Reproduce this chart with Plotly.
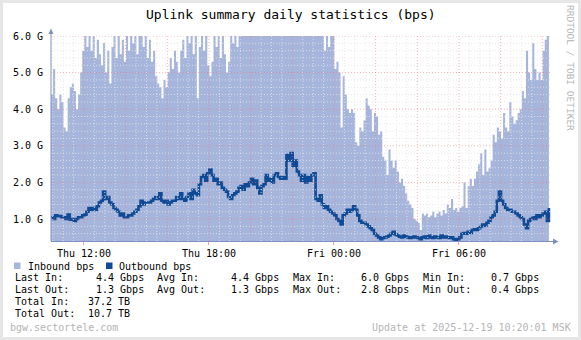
import pandas as pd
import plotly.graph_objects as go

# ---------------------------------------------------------------- data
TITLE = "Uplink summary daily statistics (bps)"
START = "2025-12-18 10:25"
END = "2025-12-19 10:25"
STEP = "6min"

# Inbound traffic, Gbps, one sample per 6 minutes
inbound_gbps = [
    4.4, 5.1, 4.3, 4.0, 4.4, 4.2, 3.5, 3.4, 4.3, 4.6,
    4.7, 4.5, 4.0, 4.4, 5.0, 5.6, 6.0, 5.7, 6.0, 5.6,
    6.0, 5.4, 5.9, 5.5, 5.2, 5.8, 5.0, 5.6, 4.7, 5.7,
    6.0, 5.4, 6.0, 5.5, 5.9, 5.3, 6.0, 5.6, 6.0, 5.8,
    6.0, 5.5, 6.0, 6.0, 5.7, 6.0, 5.4, 5.9, 5.3, 5.6,
    4.9, 4.7, 4.6, 4.3, 4.8, 4.6, 5.0, 5.4, 5.1, 5.6,
    5.3, 5.0, 5.6, 5.9, 5.4, 6.0, 5.8, 6.0, 5.5, 6.0,
    4.3, 5.7, 6.0, 5.6, 6.0, 5.2, 4.9, 5.3, 6.0, 5.7,
    6.0, 5.4, 6.0, 5.5, 5.0, 5.3, 6.0, 5.8, 6.0, 5.7,
    6.0, 6.0, 6.0, 6.0, 6.0, 6.0, 6.0, 6.0, 6.0, 6.0,
    6.0, 6.0, 6.0, 6.0, 6.0, 6.0, 6.0, 6.0, 6.0, 6.0,
    6.0, 6.0, 6.0, 6.0, 6.0, 6.0, 6.0, 6.0, 6.0, 6.0,
    6.0, 6.0, 6.0, 6.0, 6.0, 6.0, 6.0, 6.0, 6.0, 6.0,
    6.0, 5.6, 6.0, 5.7, 6.0, 6.0, 5.1, 5.3, 5.0, 3.5,
    4.9, 4.4, 4.0, 3.9, 4.0, 3.9, 3.1, 3.0, 3.5, 3.4,
    3.7, 4.3, 4.1, 4.0, 3.4, 3.9, 3.8, 3.3, 3.4, 2.7,
    2.6, 2.2, 2.9, 2.6, 2.4, 2.6, 2.3, 2.0, 2.1, 1.9,
    1.7, 1.5, 1.4, 1.3, 1.0, 0.95, 0.9, 0.7, 1.15, 1.1,
    1.15, 1.05, 1.1, 1.2, 1.05, 1.15, 1.2, 1.1, 1.25, 1.15,
    1.4, 1.3, 1.55, 1.25, 1.3, 1.2, 1.3, 1.35, 2.0, 1.3,
    1.9, 2.1, 1.9, 2.1, 2.3, 2.5, 2.8, 2.2, 2.9, 2.3,
    2.4, 2.6, 3.3, 3.1, 3.5, 3.4, 3.2, 3.9, 3.5, 3.4,
    4.2, 3.8, 3.6, 3.7, 3.9, 4.0, 4.5, 4.3, 5.6, 5.0,
    4.8, 5.8, 5.1, 4.8, 5.0, 4.8, 5.6, 5.9, 6.0, 4.4,
]

# Outbound traffic, Gbps, same sampling
outbound_gbps = [
    1.05, 1.0, 1.1, 1.08, 1.08, 1.05, 1.05, 1.0, 1.12, 0.98,
    1.0, 0.95, 1.0, 1.05, 1.05, 1.1, 1.12, 1.2, 1.3, 1.25,
    1.3, 1.25, 1.35, 1.45, 1.5, 1.75, 1.55, 1.6, 1.45, 1.4,
    1.3, 1.25, 1.2, 1.1, 1.15, 1.05, 1.05, 1.1, 1.1, 1.15,
    1.2, 1.25, 1.35, 1.5, 1.4, 1.45, 1.45, 1.45, 1.5, 1.55,
    1.6, 1.55, 1.7, 1.5, 1.45, 1.5, 1.4, 1.45, 1.5, 1.5,
    1.6, 1.55, 1.7, 1.55, 1.5, 1.6, 1.7, 1.55, 1.8, 1.7,
    1.65, 1.95, 2.15, 2.2, 2.05, 2.25, 2.35, 2.2, 2.05, 2.1,
    1.95, 2.0, 1.85, 1.8, 1.75, 1.6, 1.55, 1.65, 1.7, 1.75,
    1.85, 1.9, 1.8, 1.95, 1.9, 2.0, 2.1, 1.95, 2.05, 1.85,
    1.7, 1.9, 1.95, 2.2, 2.05, 2.1, 2.0, 2.2, 2.25, 2.15,
    2.1, 2.15, 2.1, 2.75, 2.6, 2.8, 2.45, 2.6, 2.3, 2.2,
    2.05, 2.2, 2.0, 2.15, 2.05, 2.2, 2.25, 1.55, 1.5, 1.65,
    1.4, 1.3, 1.35, 1.25, 1.2, 1.15, 1.1, 1.0, 0.95, 0.85,
    1.1, 1.15, 1.25, 1.2, 1.25, 1.35, 1.25, 1.1, 0.95, 0.9,
    0.9, 0.85, 0.8, 0.75, 0.7, 0.6, 0.55, 0.5, 0.45, 0.48,
    0.5, 0.52, 0.55, 0.6, 0.65, 0.58, 0.55, 0.52, 0.5, 0.55,
    0.52, 0.5, 0.48, 0.5, 0.52, 0.5, 0.48, 0.45, 0.5, 0.52,
    0.48, 0.55, 0.5, 0.48, 0.52, 0.5, 0.48, 0.55, 0.5, 0.52,
    0.5, 0.48, 0.5, 0.45, 0.4, 0.45, 0.5, 0.6, 0.62, 0.6,
    0.65, 0.62, 0.7, 0.72, 0.7, 0.75, 0.8, 0.85, 0.82, 0.9,
    0.95, 1.05, 1.1, 1.2, 1.5, 1.75, 1.5, 1.4, 1.3, 1.25,
    1.25, 1.2, 1.2, 1.15, 1.1, 1.05, 1.0, 0.85, 0.75, 0.95,
    1.0, 1.05, 1.0, 1.1, 1.05, 1.1, 1.15, 1.2, 0.95, 1.3,
]

x_tick_times = ["2025-12-18 12:00", "2025-12-18 18:00",
                "2025-12-19 00:00", "2025-12-19 06:00"]
x_tick_labels = ["Thu 12:00", "Thu 18:00", "Fri 00:00", "Fri 06:00"]
y_tick_vals = [1, 2, 3, 4, 5, 6]
y_tick_labels = ["1.0 G", "2.0 G", "3.0 G", "4.0 G", "5.0 G", "6.0 G"]
Y_MIN, Y_MAX = 0.4, 6.0

series_names = ["Inbound bps", "Outbound bps"]
stats_in = [("Last In:", "4.4 Gbps"), ("Avg In:", "4.4 Gbps"),
            ("Max In:", "6.0 Gbps"), ("Min In:", "0.7 Gbps")]
stats_out = [("Last Out:", "1.3 Gbps"), ("Avg Out:", "1.3 Gbps"),
             ("Max Out:", "2.8 Gbps"), ("Min Out:", "0.4 Gbps")]
totals = [("Total In:", "37.2 TB"), ("Total Out:", "10.7 TB")]
host_label = "bgw.sectortele.com"
update_label = "Update at 2025-12-19 10:20:01 MSK"
vendor_label = "RRDTOOL / TOBI OETIKER"

# ---------------------------------------------------------------- style
W, H = 581, 340
PL, PR, PT, PB = 51, 551, 36, 241          # plot box in pixels
FONT = "DejaVu Sans Mono"
IN_COLOR = "#a6b5dc"
OUT_COLOR = "#0e4a95"
AXIS_COLOR = "#7d90c4"
MINOR_GRID = "rgba(228,228,228,0.85)"
MAJOR_GRID = "rgba(238,120,120,0.55)"
GRAY_TEXT = "#b4b4b4"


def px(x):
    return (x - PL) / (PR - PL)


def py(y):
    return (PB - y) / (PB - PT)


times = pd.date_range(START, periods=len(inbound_gbps), freq=STEP)

fig = go.Figure()
fig.add_trace(go.Scatter(
    x=times, y=inbound_gbps, mode="lines", line=dict(width=0, shape="hv"),
    fill="tozeroy", fillcolor=IN_COLOR, name=series_names[0],
))
fig.add_trace(go.Scatter(
    x=times, y=outbound_gbps, mode="lines",
    line=dict(width=2.6, shape="hv", color=OUT_COLOR), name=series_names[1],
))

shapes = []
# dotted grid drawn over the traces
t0, t1 = pd.Timestamp(START), pd.Timestamp(END)
for t in pd.date_range(t0.ceil("30min"), t1, freq="30min"):
    major = t.minute == 0 and t.hour % 2 == 0
    shapes.append(dict(type="line", xref="x", yref="paper", x0=t, x1=t, y0=0, y1=1,
                       line=dict(color=MAJOR_GRID if major else MINOR_GRID,
                                 width=1, dash="1px,2px"), layer="above"))
for k in range(3, 31):
    v = round(k * 0.2, 1)
    major = abs(v - round(v)) < 1e-9
    shapes.append(dict(type="line", xref="paper", yref="y", x0=0, x1=1, y0=v, y1=v,
                       line=dict(color=MAJOR_GRID if major else MINOR_GRID,
                                 width=1, dash="1px,2px"), layer="above"))

# axis lines with arrow heads
shapes.append(dict(type="line", xref="paper", yref="paper", x0=px(PL), x1=px(PL),
                   y0=py(PB), y1=py(31), line=dict(color=AXIS_COLOR, width=1), layer="above"))
shapes.append(dict(type="path", xref="paper", yref="paper",
                   path=f"M {px(48.5)},{py(34)} L {px(53.5)},{py(34)} L {px(51)},{py(28.5)} Z",
                   fillcolor=AXIS_COLOR, line=dict(width=0), layer="above"))
shapes.append(dict(type="line", xref="paper", yref="paper", x0=px(PL), x1=px(554),
                   y0=py(PB + 0.5), y1=py(PB + 0.5), line=dict(color=AXIS_COLOR, width=1),
                   layer="above"))
shapes.append(dict(type="path", xref="paper", yref="paper",
                   path=f"M {px(553)},{py(238.5)} L {px(553)},{py(244.5)} L {px(558.5)},{py(241.5)} Z",
                   fillcolor=AXIS_COLOR, line=dict(width=0), layer="above"))

# legend swatches
for sx, col in ((14, IN_COLOR), (106, OUT_COLOR)):
    shapes.append(dict(type="rect", xref="paper", yref="paper",
                       x0=px(sx), x1=px(sx + 6.5), y0=py(262.5), y1=py(269),
                       fillcolor=col, line=dict(width=0)))

# page frame
shapes.append(dict(type="rect", xref="paper", yref="paper",
                   x0=px(1.5), x1=px(W - 1.5), y0=py(H - 1.5), y1=py(1.5),
                   line=dict(color="#e6e6e6", width=3), layer="below"))

ann = []


def text(x, y, s, size=10, color="#000000", anchor="left", angle=0):
    ann.append(dict(xref="paper", yref="paper", x=px(x), y=py(y), text=s,
                    showarrow=False, xanchor=anchor, yanchor="middle",
                    textangle=angle, borderpad=0,
                    font=dict(family=FONT, size=size, color=color)))


text(290.5, 15, TITLE, size=13, anchor="center")
text(571, 68, vendor_label, size=9.5, color=GRAY_TEXT, anchor="center", angle=90)
text(26.5, 266, series_names[0])
text(118, 266, series_names[1])
label_x = [14, 156, 291.5, 421.5]
value_x = [95, 230, 360, 490]
for row_y, row in ((277.7, stats_in), (289.3, stats_out)):
    for (lab, val), lx, vx in zip(row, label_x, value_x):
        text(lx, row_y, lab)
        text(vx, row_y, val)
for row_y, (lab, val) in zip((301, 313.3), totals):
    text(14, row_y, lab)
    text(87.3, row_y, val)
text(8.5, 327.3, host_label, color=GRAY_TEXT)
text(572, 327.3, update_label, color=GRAY_TEXT, anchor="right")

fig.update_layout(
    width=W, height=H,
    margin=dict(l=PL, r=W - PR, t=PT, b=H - PB, pad=0),
    paper_bgcolor="#ffffff", plot_bgcolor="#ffffff",
    showlegend=False,
    shapes=shapes, annotations=ann,
    font=dict(family=FONT, size=10, color="#000000"),
    xaxis=dict(
        type="date", range=[START, END], showgrid=False, zeroline=False,
        showline=False, automargin=False,
        tickmode="array", tickvals=x_tick_times, ticktext=x_tick_labels,
        ticks="outside", ticklen=3, tickcolor="rgba(238,120,120,0.7)",
        tickfont=dict(family=FONT, size=10, color="#000000"),
    ),
    yaxis=dict(
        range=[Y_MIN, Y_MAX], showgrid=False, zeroline=False, showline=False,
        automargin=False, tickmode="array", tickvals=y_tick_vals,
        ticktext=y_tick_labels, ticks="", ticklabelstandoff=7,
        tickfont=dict(family=FONT, size=10, color="#000000"),
    ),
)

fig.write_html("out.html")
